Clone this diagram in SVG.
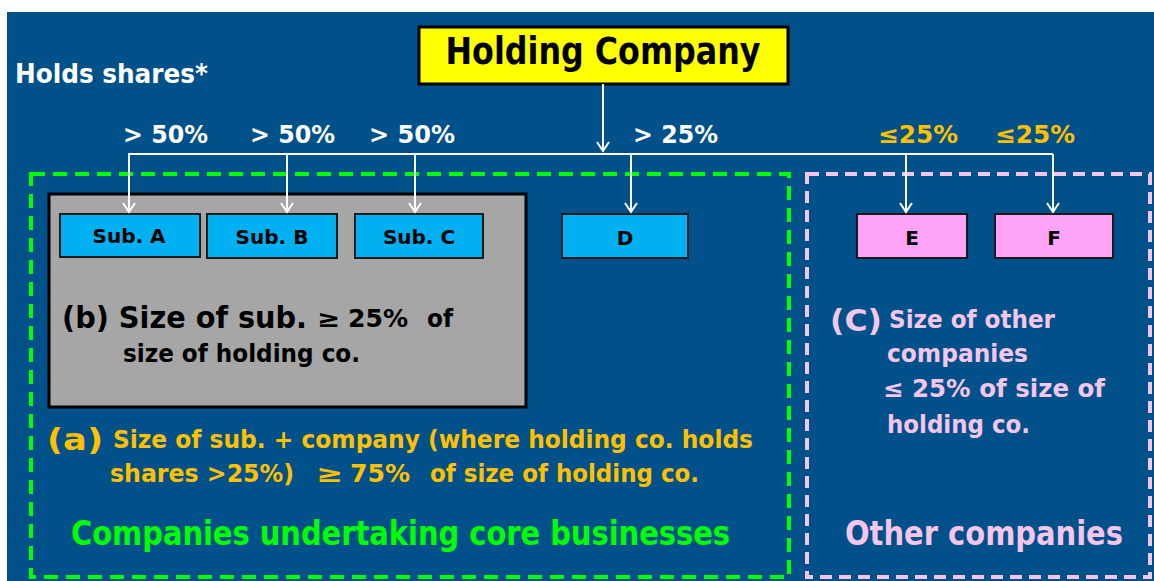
<svg xmlns="http://www.w3.org/2000/svg" width="1154" height="581" viewBox="0 0 1154 581">
<defs>
<marker id="arr" viewBox="-1 -7 12 14" refX="9" refY="0" markerUnits="userSpaceOnUse" markerWidth="12" markerHeight="14" orient="auto">
<path d="M0,-6 L9,0 L0,6" fill="none" stroke="#FFFFFF" stroke-width="2"/>
</marker>
</defs>
<style>
.t{font-family:"DejaVu Sans Condensed","DejaVu Sans",Verdana,sans-serif;font-weight:bold}
.n{font-family:"DejaVu Sans",Verdana,sans-serif;font-weight:bold}
.w{fill:#FFFFFF}
.y{fill:#FFC000}
.p{fill:#F6C6EA}
.g{fill:#00FF00}
.k{fill:#000000}
.box{stroke:#1a1a1a;stroke-width:2}
.cy{fill:#00B0F0}
.pk{fill:#FFA3F6}
.c{stroke:#FFFFFF;stroke-width:2;fill:none}
</style>
<rect x="0" y="0" width="1154" height="581" fill="#FFFFFF"/>
<rect x="7" y="12" width="1147" height="569" fill="#00508A"/>

<g id="region-core">
<rect x="31" y="174" width="758" height="403" fill="none" stroke="#00FF00" stroke-width="4" stroke-dasharray="14 8"/>
<text class="t g" x="71" y="545" font-size="33" textLength="659" lengthAdjust="spacingAndGlyphs">Companies undertaking core businesses</text>
<text class="t y" x="47" y="450" font-size="31" textLength="56" lengthAdjust="spacingAndGlyphs">(a)</text>
<text class="t y" x="113" y="448" font-size="24" textLength="640" lengthAdjust="spacingAndGlyphs">Size of sub. + company (where holding co. holds</text>
<text class="t y" x="110" y="482" font-size="24" textLength="184" lengthAdjust="spacingAndGlyphs">shares &gt;25%)</text>
<text class="t y" x="316" y="482" font-size="24" textLength="27" lengthAdjust="spacingAndGlyphs">≥</text>
<text class="t y" x="350" y="482" font-size="24" textLength="60" lengthAdjust="spacingAndGlyphs">75%</text>
<text class="t y" x="430" y="482" font-size="24" textLength="269" lengthAdjust="spacingAndGlyphs">of size of holding co.</text>
</g>

<g id="region-other">
<rect x="807" y="174" width="343" height="403" fill="none" stroke="#F6C6EA" stroke-width="4" stroke-dasharray="12 7"/>
<text class="t p" x="845" y="545" font-size="33" textLength="278" lengthAdjust="spacingAndGlyphs">Other companies</text>
<text class="t p" x="830" y="331" font-size="30" textLength="52" lengthAdjust="spacingAndGlyphs">(C)</text>
<text class="t p" x="889" y="328" font-size="24" textLength="166" lengthAdjust="spacingAndGlyphs">Size of other</text>
<text class="t p" x="887" y="362" font-size="24" textLength="141" lengthAdjust="spacingAndGlyphs">companies</text>
<text class="t p" x="883" y="397" font-size="24" textLength="222" lengthAdjust="spacingAndGlyphs">≤ 25% of size of</text>
<text class="t p" x="887" y="433" font-size="24" textLength="143" lengthAdjust="spacingAndGlyphs">holding co.</text>
</g>

<g id="region-subs">
<rect x="49" y="194" width="477" height="213" fill="#A6A6A6" stroke="#000000" stroke-width="3"/>
<text class="t k" x="62" y="328" font-size="30" textLength="245" lengthAdjust="spacingAndGlyphs">(b) Size of sub.</text>
<text class="t k" x="317" y="327" font-size="24" textLength="23" lengthAdjust="spacingAndGlyphs" font-weight="normal">≥</text>
<text class="t k" x="348" y="327" font-size="24" textLength="60" lengthAdjust="spacingAndGlyphs">25%</text>
<text class="t k" x="427" y="327" font-size="24" textLength="26" lengthAdjust="spacingAndGlyphs">of</text>
<text class="t k" x="123" y="362" font-size="24" textLength="237" lengthAdjust="spacingAndGlyphs">size of holding co.</text>
</g>

<g id="holding">
<rect x="419" y="27" width="369" height="57" fill="#FFFF00" stroke="#000000" stroke-width="3"/>
<text class="t k" x="603" y="64" font-size="37" text-anchor="middle" textLength="315" lengthAdjust="spacingAndGlyphs">Holding Company</text>
</g>

<g id="sub-a">
<rect x="60" y="214" width="140" height="43" class="cy box"/>
<text class="n k" x="129" y="243" font-size="20" text-anchor="middle">Sub. A</text>
</g>
<g id="sub-b">
<rect x="207" y="214" width="130" height="44" class="cy box"/>
<text class="n k" x="272" y="244" font-size="20" text-anchor="middle">Sub. B</text>
</g>
<g id="sub-c">
<rect x="355" y="214" width="128" height="44" class="cy box"/>
<text class="n k" x="419" y="244" font-size="20" text-anchor="middle">Sub. C</text>
</g>
<g id="d">
<rect x="562" y="214" width="126" height="44" class="cy box"/>
<text class="n k" x="625" y="245" font-size="20" text-anchor="middle">D</text>
</g>
<g id="e">
<rect x="857" y="214" width="110" height="44" class="pk box"/>
<text class="n k" x="912" y="245" font-size="20" text-anchor="middle">E</text>
</g>
<g id="f">
<rect x="995" y="214" width="118" height="44" class="pk box"/>
<text class="n k" x="1054" y="245" font-size="20" text-anchor="middle">F</text>
</g>

<g id="labels">
<text class="t w" x="15" y="83" font-size="26" textLength="193" lengthAdjust="spacingAndGlyphs">Holds shares*</text>
<text class="t w" x="123" y="143" font-size="24" textLength="85" lengthAdjust="spacingAndGlyphs">&gt; 50%</text>
<text class="t w" x="250" y="143" font-size="24" textLength="85" lengthAdjust="spacingAndGlyphs">&gt; 50%</text>
<text class="t w" x="369" y="143" font-size="24" textLength="86" lengthAdjust="spacingAndGlyphs">&gt; 50%</text>
<text class="t w" x="633" y="143" font-size="24" textLength="85" lengthAdjust="spacingAndGlyphs">&gt; 25%</text>
<text class="t y" x="878" y="143" font-size="24" textLength="80" lengthAdjust="spacingAndGlyphs">≤25%</text>
<text class="t y" x="995" y="143" font-size="24" textLength="80" lengthAdjust="spacingAndGlyphs">≤25%</text>
</g>

<g id="connectors">
<path class="c" d="M603,84 V151" marker-end="url(#arr)"/>
<path class="c" d="M128,154 H1053"/>
<path class="c" d="M129,154 V212" marker-end="url(#arr)"/>
<path class="c" d="M287,154 V212" marker-end="url(#arr)"/>
<path class="c" d="M415,154 V212" marker-end="url(#arr)"/>
<path class="c" d="M631,154 V212" marker-end="url(#arr)"/>
<path class="c" d="M906,154 V212" marker-end="url(#arr)"/>
<path class="c" d="M1053,154 V212" marker-end="url(#arr)"/>
</g>
</svg>
